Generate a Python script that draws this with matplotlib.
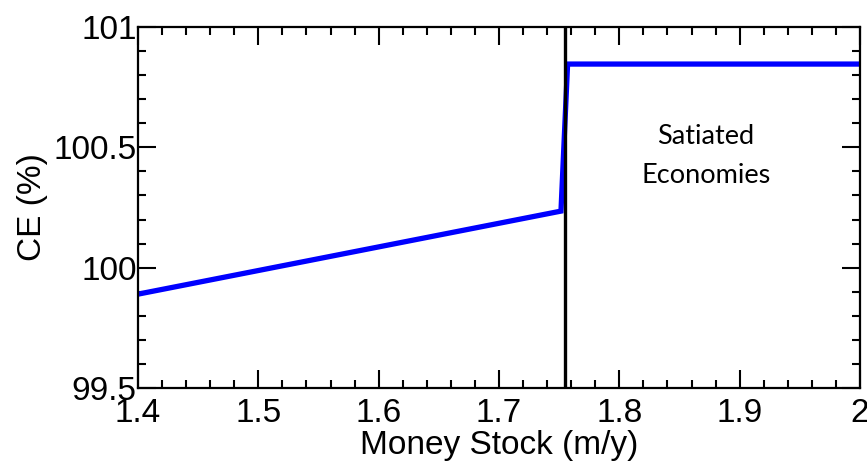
import matplotlib
matplotlib.use('Agg')
import matplotlib.pyplot as plt
from matplotlib.ticker import MultipleLocator

# data
money = [1.40, 1.7515, 1.757, 2.00]
ce = [99.89, 100.235, 100.846, 100.846]
threshold = 1.755

plt.rcParams['font.family'] = ['Liberation Sans', 'DejaVu Sans']

fig = plt.figure(figsize=(8.67, 4.62), dpi=100)
ax = fig.add_axes([138/867, 1-388/462, 722/867, 361/462])

ax.plot(money, ce, color='#0000ff', lw=3.8, solid_joinstyle='miter')
ax.axvline(threshold, color='black', lw=2.4)
ax.text(1.872, 100.465, 'Satiated\nEconomies', ha='center', va='center',
        fontsize=19.5, family=['Lato', 'DejaVu Sans'], linespacing=1.7)

ax.set_xlim(1.4, 2.0)
ax.set_ylim(99.5, 101)
ax.xaxis.set_minor_locator(MultipleLocator(0.02))
ax.yaxis.set_minor_locator(MultipleLocator(0.1))
ax.set_xticks([1.4, 1.5, 1.6, 1.7, 1.8, 1.9, 2.0])
ax.set_xticklabels(['1.4', '1.5', '1.6', '1.7', '1.8', '1.9', '2'])
ax.set_yticks([99.5, 100, 100.5, 101])
ax.set_yticklabels(['99.5', '100', '100.5', '101'])

ax.tick_params(which='both', direction='in', top=True, right=True,
               width=1.5, labelsize=24, pad=1)
ax.tick_params(axis='x', pad=7)
ax.tick_params(which='major', length=13)
ax.tick_params(which='minor', length=6)
for s in ax.spines.values():
    s.set_linewidth(1.6)

ax.set_xlabel('Money Stock (m/y)', fontsize=24, labelpad=1)
ax.set_ylabel('CE (%)', fontsize=24, labelpad=4)

fig.savefig('out.png', dpi=100)
